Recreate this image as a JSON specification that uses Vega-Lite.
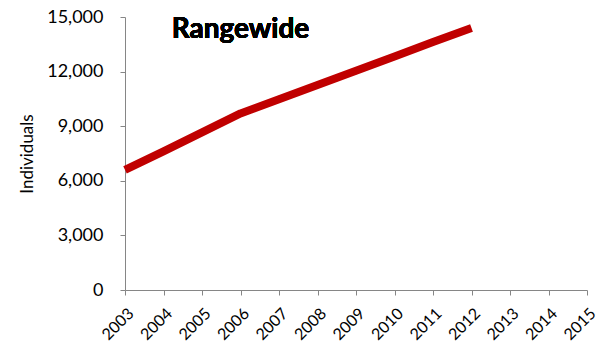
{
  "$schema": "https://vega.github.io/schema/vega-lite/v6.json",
  "autosize": "none",
  "width": 462,
  "height": 273,
  "padding": {"left": 125, "top": 17, "right": 16, "bottom": 61},
  "background": "white",
  "config": {"view": {"stroke": null}, "font": "Lato", "axis": {"labelOverlap": false}, "axisX": {"labelOverlap": false, "labelBound": false, "labelFlush": false}},
  "data": {"values": [
    {"year": 2003, "individuals": 6600},
    {"year": 2004, "individuals": 7620},
    {"year": 2005, "individuals": 8660},
    {"year": 2006, "individuals": 9700},
    {"year": 2007, "individuals": 10480},
    {"year": 2008, "individuals": 11270},
    {"year": 2009, "individuals": 12050},
    {"year": 2010, "individuals": 12830},
    {"year": 2011, "individuals": 13620},
    {"year": 2012, "individuals": 14400}
  ]},
  "layer": [
    {
      "mark": {"type": "line", "color": "#C00000", "strokeWidth": 8, "strokeCap": "butt", "strokeJoin": "round"},
      "encoding": {
        "x": {"field": "year", "type": "quantitative",
          "scale": {"domain": [2003, 2015], "nice": false, "zero": false},
          "axis": {"title": null, "values": [2003,2004,2005,2006,2007,2008,2009,2010,2011,2012,2013,2014,2015], "format": "d", "labelAngle": -45, "labelOverlap": false, "labelFontSize": 16, "labelColor": "#000", "domainColor": "#868686", "tickColor": "#868686", "tickSize": 5, "grid": false, "labelPadding": 10, "labelFont": "Lato"}},
        "y": {"field": "individuals", "type": "quantitative",
          "scale": {"domain": [0, 15000], "nice": false},
          "axis": {"title": "Individuals", "values": [0,3000,6000,9000,12000,15000], "format": ",d", "labelOverlap": false, "labelFontSize": 18, "labelColor": "#000", "domainColor": "#868686", "tickColor": "#868686", "tickSize": 5, "grid": false, "labelPadding": 17, "titleFontSize": 17, "titleFontWeight": "normal", "titleColor": "#000", "titlePadding": 10, "labelFont": "Lato", "titleFont": "Lato"}}
      }
    },
    {
      "mark": {"type": "text", "text": "Rangewide", "fontSize": 28, "fontWeight": "bold", "font": "Lato", "color": "#000", "align": "center", "baseline": "middle"},
      "encoding": {
        "x": {"datum": 2006, "type": "quantitative",
          "scale": {"domain": [2003, 2015], "nice": false, "zero": false},
          "axis": {"title": null, "values": [2003,2004,2005,2006,2007,2008,2009,2010,2011,2012,2013,2014,2015], "format": "d", "labelAngle": -45, "labelOverlap": false, "labelFontSize": 16, "labelColor": "#000", "domainColor": "#868686", "tickColor": "#868686", "tickSize": 5, "grid": false, "labelPadding": 10, "labelFont": "Lato"}},
        "y": {"datum": 14300, "type": "quantitative",
          "scale": {"domain": [0, 15000], "nice": false},
          "axis": {"title": "Individuals", "values": [0,3000,6000,9000,12000,15000], "format": ",d", "labelOverlap": false, "labelFontSize": 18, "labelColor": "#000", "domainColor": "#868686", "tickColor": "#868686", "tickSize": 5, "grid": false, "labelPadding": 17, "titleFontSize": 17, "titleFontWeight": "normal", "titleColor": "#000", "titlePadding": 10, "labelFont": "Lato", "titleFont": "Lato"}}
      }
    }
  ]
}
